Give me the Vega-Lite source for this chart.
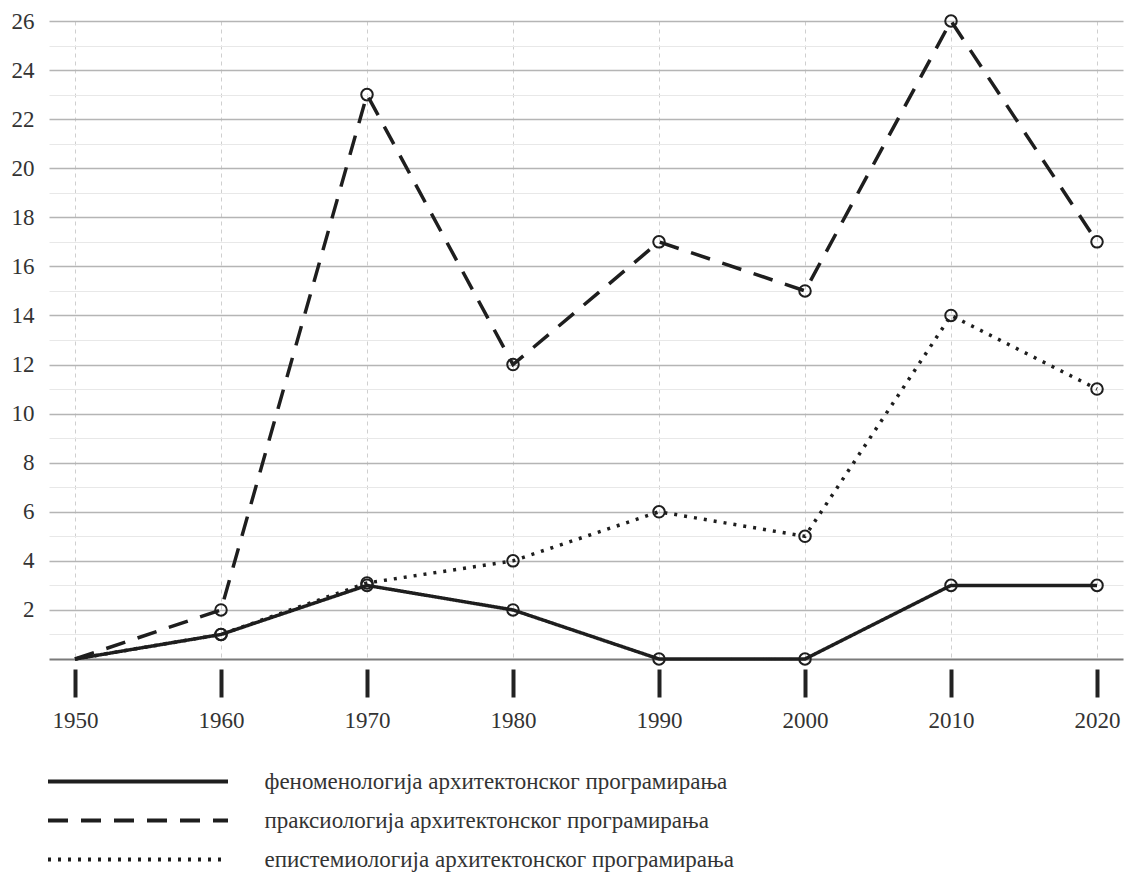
{
  "$schema": "https://vega.github.io/schema/vega-lite/v6.json",
  "width": 1074,
  "height": 638,
  "autosize": {"type": "none"},
  "padding": {"left": 49, "top": 21, "right": 2, "bottom": 213},
  "background": "white",
  "config": {
    "view": {"stroke": null},
    "font": "Liberation Serif",
    "axis": {"labelFont": "Liberation Serif", "labelFontSize": 23, "labelColor": "#333"},
    "legend": {"labelFont": "Liberation Serif"}
  },
  "data": {
    "values": [
      {"year": 1950, "series": "феноменологија архитектонског програмирања", "value": 0},
      {"year": 1960, "series": "феноменологија архитектонског програмирања", "value": 1},
      {"year": 1970, "series": "феноменологија архитектонског програмирања", "value": 3},
      {"year": 1980, "series": "феноменологија архитектонског програмирања", "value": 2},
      {"year": 1990, "series": "феноменологија архитектонског програмирања", "value": 0},
      {"year": 2000, "series": "феноменологија архитектонског програмирања", "value": 0},
      {"year": 2010, "series": "феноменологија архитектонског програмирања", "value": 3},
      {"year": 2020, "series": "феноменологија архитектонског програмирања", "value": 3},
      {"year": 1950, "series": "праксиологија архитектонског програмирања", "value": 0},
      {"year": 1960, "series": "праксиологија архитектонског програмирања", "value": 2},
      {"year": 1970, "series": "праксиологија архитектонског програмирања", "value": 23},
      {"year": 1980, "series": "праксиологија архитектонског програмирања", "value": 12},
      {"year": 1990, "series": "праксиологија архитектонског програмирања", "value": 17},
      {"year": 2000, "series": "праксиологија архитектонског програмирања", "value": 15},
      {"year": 2010, "series": "праксиологија архитектонског програмирања", "value": 26},
      {"year": 2020, "series": "праксиологија архитектонског програмирања", "value": 17},
      {"year": 1950, "series": "епистемиологија архитектонског програмирања", "value": 0},
      {"year": 1960, "series": "епистемиологија архитектонског програмирања", "value": 1},
      {"year": 1970, "series": "епистемиологија архитектонског програмирања", "value": 3.1},
      {"year": 1980, "series": "епистемиологија архитектонског програмирања", "value": 4},
      {"year": 1990, "series": "епистемиологија архитектонског програмирања", "value": 6},
      {"year": 2000, "series": "епистемиологија архитектонског програмирања", "value": 5},
      {"year": 2010, "series": "епистемиологија архитектонског програмирања", "value": 14},
      {"year": 2020, "series": "епистемиологија архитектонског програмирања", "value": 11}
    ]
  },
  "layer": [
    {
      "mark": {"type": "line", "strokeWidth": 3.5, "color": "#1e1e1e", "strokeCap": "butt", "strokeJoin": "miter"},
      "encoding": {
        "x": {
          "field": "year", "type": "quantitative",
          "scale": {"domain": [1948.22, 2021.78], "nice": false, "zero": false},
          "axis": {
            "values": [1950, 1960, 1970, 1980, 1990, 2000, 2010, 2020],
            "format": "d", "title": null,
            "labelFont": "Liberation Serif", "labelFontSize": 23, "labelColor": "#333",
            "grid": true, "gridDash": [4, 4], "gridColor": "#cfcfcf", "gridWidth": 1,
            "domain": false,
            "ticks": true, "tickSize": 28, "tickWidth": 4, "tickColor": "#222",
            "offset": 10, "labelPadding": 12
          }
        },
        "y": {
          "field": "value", "type": "quantitative",
          "scale": {"domain": [0, 26], "nice": false},
          "axis": {
            "orient": "left",
            "values": [0, 2, 4, 6, 8, 10, 12, 14, 16, 18, 20, 22, 24, 26],
            "labelExpr": "datum.value === 0 ? '' : datum.label",
            "labelFont": "Liberation Serif", "labelFontSize": 23, "labelColor": "#333",
            "title": null, "domain": false, "ticks": false, "labelPadding": 15,
            "grid": true,
            "gridColor": {"condition": {"test": "datum.value === 0", "value": "#7a7a7a"}, "value": "#b5b5b5"},
            "gridWidth": {"condition": {"test": "datum.value === 0", "value": 2}, "value": 1.5}
          }
        },
        "strokeDash": {
          "field": "series", "type": "nominal",
          "scale": {
            "domain": ["феноменологија архитектонског програмирања", "праксиологија архитектонског програмирања", "епистемиологија архитектонског програмирања"],
            "range": [[1, 0], [20, 13], [3, 7]]
          },
          "legend": {
            "title": null, "orient": "none", "legendX": 77.5, "legendY": 749,
            "direction": "vertical", "padding": 0,
            "symbolType": "M-10,0H10", "symbolSize": 324, "symbolStrokeWidth": 4,
            "symbolStrokeColor": "#1e1e1e", "symbolFillColor": "transparent",
            "labelOffset": 115, "rowPadding": 15,
            "labelFont": "Liberation Serif", "labelFontSize": 23, "labelColor": "#333", "labelLimit": 0
          }
        }
      }
    },
    {
      "transform": [{"filter": "datum.year > 1950"}],
      "mark": {"type": "point", "shape": "circle", "filled": false, "size": 133, "strokeWidth": 2, "color": "#1e1e1e", "opacity": 1},
      "encoding": {
        "x": {"field": "year", "type": "quantitative"},
        "y": {
          "field": "value", "type": "quantitative",
          "axis": {
            "orient": "left",
            "values": [1, 3, 5, 7, 9, 11, 13, 15, 17, 19, 21, 23, 25],
            "grid": true, "gridColor": "#e8e8e8", "gridWidth": 1,
            "labels": false, "ticks": false, "domain": false, "title": null
          }
        }
      }
    }
  ],
  "resolve": {"axis": {"y": "independent"}}
}
